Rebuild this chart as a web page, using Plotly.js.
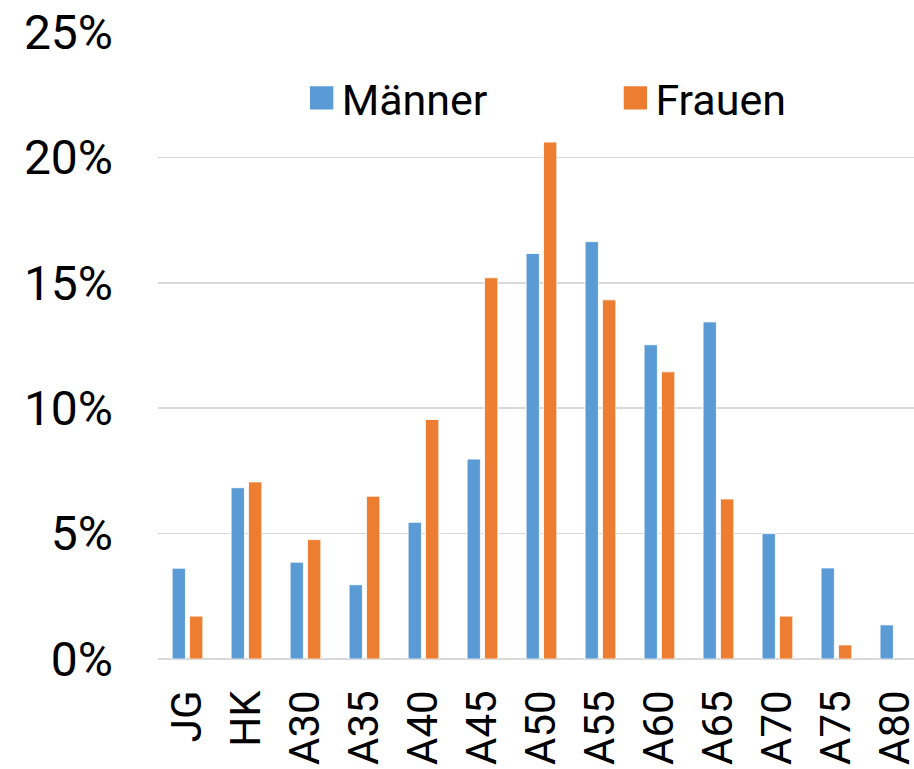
<!DOCTYPE html>
<html>
<head>
<meta charset="utf-8">
<script src="https://cdn.plot.ly/plotly-3.0.1.min.js"></script>
<style>
html,body{margin:0;padding:0;background:#fff;}
#chart{width:914px;height:769px;}
</style>
</head>
<body>
<div id="chart"></div>
<script>
var categories = ["JG","HK","A30","A35","A40","A45","A50","A55","A60","A65","A70","A75","A80"];
var maenner = [3.62, 6.83, 3.86, 2.96, 5.45, 7.97, 16.17, 16.64, 12.53, 13.44, 5.00, 3.63, 1.36];
var frauen  = [1.71, 7.06, 4.76, 6.49, 9.55, 15.2, 20.61, 14.32, 11.45, 6.38, 1.71, 0.56, null];
var yTicks = [0, 5, 10, 15, 20, 25];

var FONT = "Roboto, 'DejaVu Sans', sans-serif";

var traces = [
  {type:'bar', name:'Männer', x:categories, y:maenner, legend:'legend',
   marker:{color:'#5B9BD5', line:{color:'#ffffff', width:0.8}}},
  {type:'bar', name:'Frauen', x:categories, y:frauen, legend:'legend2',
   marker:{color:'#ED7D31', line:{color:'#ffffff', width:0.8}}}
];

var legendBase = {orientation:'h', xanchor:'left', y:0.895, yanchor:'middle',
                  font:{family:FONT, size:43, color:'#000000'},
                  bgcolor:'rgba(0,0,0,0)', borderwidth:0};

var layout = {
  width:914, height:769,
  margin:{l:158, r:0, t:32, b:110, pad:0},
  paper_bgcolor:'#ffffff', plot_bgcolor:'#ffffff',
  barmode:'group', bargap:0.41, bargroupgap:0.236,
  font:{family:FONT, color:'#000000', size:44},
  showlegend:true,
  legend:Object.assign({}, legendBase, {x:0.19}),
  legend2:Object.assign({}, legendBase, {x:0.605}),
  xaxis:{type:'category', range:[-0.5, 12.315], showgrid:false, zeroline:false,
         showline:false, ticks:'', tickangle:-90, ticklabelstandoff:22, automargin:false,
         tickfont:{family:FONT, size:42, color:'#000000'}, fixedrange:true},
  yaxis:{range:[0,25], tickvals:yTicks, ticktext:yTicks.map(function(v){return v+'%';}),
         showgrid:true, gridcolor:'#D9D9D9', gridwidth:1.5, automargin:false,
         zeroline:true, zerolinecolor:'#D9D9D9', zerolinewidth:2,
         showline:false, ticks:'', ticklabelstandoff:44,
         tickfont:{family:FONT, size:48, color:'#000000'}, fixedrange:true}
};

Plotly.newPlot('chart', traces, layout, {staticPlot:true, displayModeBar:false}).then(function(gd){
  var paths = gd.querySelectorAll('.legendpoints path');
  paths.forEach(function(p){
    var t = p.getAttribute('transform') || '';
    p.setAttribute('transform', t + ' scale(2.08)');
  });
});
</script>
</body>
</html>
